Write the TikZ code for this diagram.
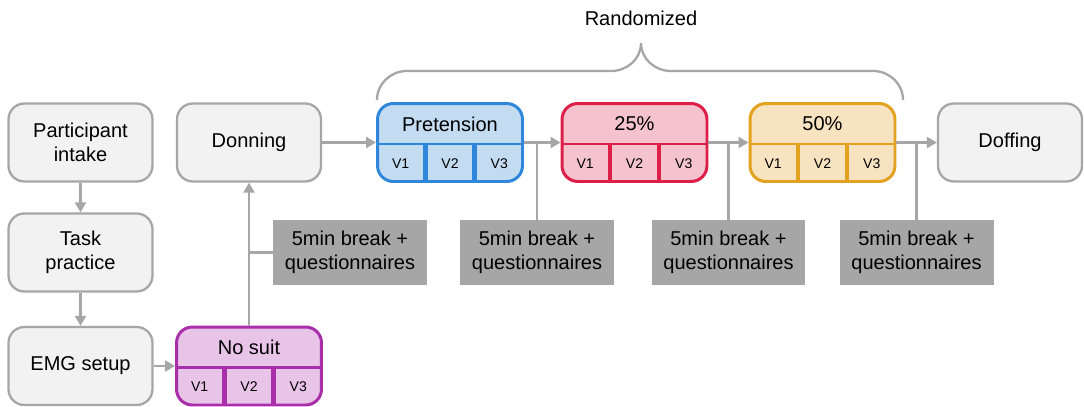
\documentclass[tikz,border=0pt]{standalone}
\usepackage{fontspec}
\setsansfont{Liberation Sans}
\usepackage{xcolor}
\definecolor{linegray}{HTML}{A6A6A6}
\definecolor{boxfill}{HTML}{F2F2F2}
\definecolor{breakfill}{HTML}{A6A6A6}
\definecolor{suitedge}{HTML}{A92EA9}
\definecolor{suitfill}{HTML}{E9C4E9}
\definecolor{preedge}{HTML}{2E87DA}
\definecolor{prefill}{HTML}{C3DCF2}
\definecolor{lowedge}{HTML}{DD1F48}
\definecolor{lowfill}{HTML}{F5C3CE}
\definecolor{highedge}{HTML}{E2A11E}
\definecolor{highfill}{HTML}{F8E3C1}
\usetikzlibrary{arrows.meta, positioning, calc}

% split row of a condition box: line, dividers and V1--V3
\newcommand{\versionrow}[2]{%
  \draw[#2, line width=1.6pt] ($(#1.north west)+(0,42)$) -- ($(#1.north east)+(0,42)$);
  \foreach \i in {1,2} {
    \draw[#2, line width=2.6pt]
      ($($(#1.north west)+(0,42)$)!\i/3!($(#1.north east)+(0,42)$)$)
      -- ($(#1.south west)!\i/3!(#1.south east)$);
  }
  \foreach \i/\f in {1/0.1667,2/0.5,3/0.8333} {
    \node[vlabel] (#1-v\i) at ($($($(#1.north west)+(0,42)$)!\f!($(#1.north east)+(0,42)$)$)!0.5!($(#1.south west)!\f!(#1.south east)$)$) {V\i};
  }
}

\begin{document}
\begin{tikzpicture}[
  x=0.02cm, y=-0.02cm,
  font=\sffamily\fontsize{11.4}{13.7}\selectfont,
  every node/.style={align=center, inner sep=0pt},
  stage/.style={draw=linegray, fill=boxfill, line width=1.3pt,
                rounded corners=9pt, minimum width=2.88cm, minimum height=1.56cm},
  cond/.style={line width=1.7pt, rounded corners=9pt,
               minimum width=2.9cm, minimum height=1.56cm},
  breakbox/.style={fill=breakfill, minimum width=3.08cm, minimum height=1.3cm},
  vlabel/.style={font=\sffamily\fontsize{8}{9.6}\selectfont},
  conn/.style={draw=linegray, line width=1.3pt},
  arr/.style={conn, -{Triangle[length=2mm, width=2.2mm]}}
]
  \useasboundingbox (0,0) rectangle (1084,406);

  % left column
  \node[stage] (intake) at (80.5,142.5) {Participant\\intake};
  \node[stage] (practice) at (80.5,252.5) {Task\\practice};
  \node[stage] (emg) at (80.5,366) {EMG setup};

  % no suit baseline and donning
  \node[cond, draw=suitedge, fill=suitfill] (nosuit) at (249,366) {};
  \node (nosuit-t) at ($(nosuit.north)+(0,22)$) {No suit};
  \versionrow{nosuit}{suitedge}
  \node[stage] (donning) at (249,142.5) {Donning};

  % suit conditions
  \node[cond, draw=preedge, fill=prefill] (pre) at (450,142.5) {};
  \node (pre-t) at ($(pre.north)+(0,22)$) {Pretension};
  \versionrow{pre}{preedge}
  \node[cond, draw=lowedge, fill=lowfill] (low) at (634.5,142.5) {};
  \node (low-t) at ($(low.north)+(0,22)$) {25\%};
  \versionrow{low}{lowedge}
  \node[cond, draw=highedge, fill=highfill] (high) at (822.5,142.5) {};
  \node (high-t) at ($(high.north)+(0,22)$) {50\%};
  \versionrow{high}{highedge}
  \node[stage] (doffing) at (1010,142.5) {Doffing};

  % breaks
  \node[breakbox] (brk1) at (350,252.5) {5min break +\\questionnaires};
  \node[breakbox] (brk2) at (537,252.5) {5min break +\\questionnaires};
  \node[breakbox] (brk3) at (728.5,252.5) {5min break +\\questionnaires};
  \node[breakbox] (brk4) at (916.5,252.5) {5min break +\\questionnaires};

  % flow
  \draw[arr] (intake) -- (practice);
  \draw[arr] (practice) -- (emg);
  \draw[arr] (emg) -- (nosuit);
  \draw[arr] (nosuit) -- (donning);
  \draw[arr] (donning) -- (pre);
  \draw[arr] (pre) -- (low);
  \draw[arr] (low) -- (high);
  \draw[arr] (high) -- (doffing);
  \draw[conn] (brk1.west) -- (brk1.west -| nosuit.center);
  \draw[conn] (brk2.north) -- (brk2.north |- pre.east);
  \draw[conn] (brk3.north) -- (brk3.north |- low.east);
  \draw[conn] (brk4.north) -- (brk4.north |- high.east);

  % randomized brace
  \coordinate (bl) at (377,100);
  \coordinate (br) at (903,100);
  \coordinate (tip) at (641,43);
  \draw[conn] (bl) to[out=90, in=180] (407,71) -- (611,71)
    to[out=0, in=-90] (tip) to[out=-90, in=180] (671,71) -- (873,71)
    to[out=0, in=90] (br);
  \node (rand) at (641,18) {Randomized};
\end{tikzpicture}
\end{document}
